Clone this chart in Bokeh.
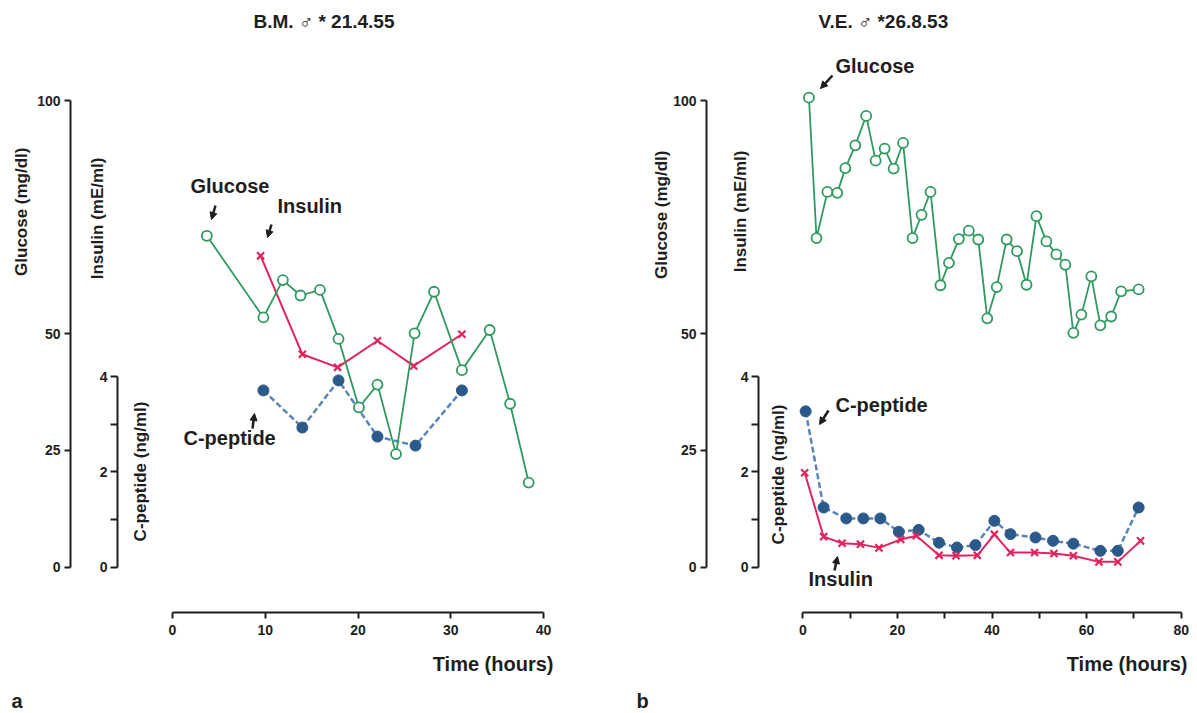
import math
from bokeh.plotting import figure
from bokeh.models import Range1d, LinearAxis, FixedTicker, Label, Arrow, NormalHead, Title
from bokeh.layouts import row
from bokeh.embed import file_html
from bokeh.resources import INLINE

# ---------------- data ----------------
# Panel a: B.M.
a_glucose_t = [3.7, 9.8, 11.9, 13.8, 15.9, 17.9, 20.1, 22.1, 24.1, 26.1, 28.2, 31.2, 34.2, 36.4, 38.4]
a_glucose = [71.0, 53.5, 61.5, 58.2, 59.4, 48.9, 34.2, 39.1, 24.2, 50.1, 59.0, 42.2, 50.8, 35.0, 18.1]
a_insulin_t = [9.5, 14.0, 17.8, 22.1, 26.0, 31.2]
a_insulin = [66.7, 45.6, 42.8, 48.5, 43.1, 49.9]
a_cpeptide_t = [9.8, 14.0, 17.9, 22.1, 26.2, 31.2]
a_cpeptide = [3.71, 2.93, 3.92, 2.74, 2.55, 3.71]

# Panel b: V.E.
b_glucose_t = [1.3, 2.9, 5.2, 7.3, 9.0, 11.1, 13.4, 15.4, 17.3, 19.2, 21.2, 23.2, 25.1, 27.0,
               29.1, 30.9, 33.0, 35.1, 37.1, 39.0, 41.0, 43.1, 45.3, 47.3, 49.4, 51.5, 53.6,
               55.5, 57.2, 58.9, 61.0, 62.9, 65.2, 67.3, 71.0]
b_glucose = [100.6, 70.5, 80.4, 80.2, 85.5, 90.4, 96.7, 87.1, 89.7, 85.4, 90.9, 70.5, 75.5, 80.4,
             60.4, 65.2, 70.3, 72.1, 70.2, 53.3, 60.0, 70.2, 67.7, 60.5, 75.2, 69.8, 67.0,
             64.8, 50.2, 54.1, 62.3, 51.8, 53.7, 59.1, 59.5]
b_insulin_t = [0.4, 4.4, 8.3, 12.2, 16.1, 20.7, 24.0, 28.8, 32.4, 36.9, 40.5, 43.9, 49.0, 53.1,
               57.2, 62.6, 66.6, 71.4]
b_insulin = [20.2, 6.5, 5.1, 4.9, 4.1, 5.9, 6.7, 2.5, 2.4, 2.5, 7.0, 3.1, 3.1, 2.9, 2.4, 1.1, 1.1, 5.6]
b_cpeptide_t = [0.6, 4.4, 9.2, 12.8, 16.4, 20.3, 24.5, 28.8, 32.6, 36.5, 40.5, 43.9, 49.2, 52.9,
                57.2, 62.9, 66.6, 71.0]
b_cpeptide = [3.27, 1.25, 1.02, 1.02, 1.02, 0.74, 0.78, 0.51, 0.41, 0.46, 0.97, 0.69, 0.62, 0.55,
              0.49, 0.34, 0.34, 1.25]

glucose_ticks = [0, 25, 50, 100]
cpeptide_ticks = [0, 2, 4]
cpeptide_minor = [1, 3]
a_time_ticks = [0, 10, 20, 30, 40]
b_time_ticks = [0, 20, 40, 60, 80]
b_time_minor = [10, 30, 50, 70]

# ---------------- styles ----------------
FONT = "Liberation Sans"
TXT = "#1e1e1e"
GREEN = "#2f9a60"
RED = "#e0245e"
BLUE = "#2b5a8a"
BLUE_LINE = "#5b84b6"

H = 712
TOP, BOTTOM = 40, 612        # frame top / bottom (canvas px)
G0, GPX = 566.5, 4.665       # glucose 0 canvas px, px per mg/dl
CPX = 47.6                   # px per ng/ml C-peptide


def make_panel(L):
    xr = Range1d((L["left"] - L["x0"]) / L["xpx"], (L["right"] - L["x0"]) / L["xpx"])
    yr = Range1d((G0 - BOTTOM) / GPX, (G0 - TOP) / GPX)
    cr = Range1d((G0 - BOTTOM) / CPX, (G0 - TOP) / CPX)
    p = figure(width=L["width"], height=H, x_range=xr, y_range=yr,
               x_axis_location=None, y_axis_location=None,
               output_backend="svg", toolbar_location=None,
               min_border_left=L["left"], min_border_right=L["width"] - L["right"],
               min_border_top=TOP, min_border_bottom=H - BOTTOM)
    p.extra_y_ranges = {"cpep": cr}
    p.outline_line_color = None
    p.background_fill_color = "white"
    p.border_fill_color = "white"
    for g in p.grid:
        g.visible = False

    def px_x(cx):
        return (cx - L["x0"]) / L["xpx"]

    def px_y(cy):
        return (G0 - cy) / GPX

    def style_axis(ax, size="14px"):
        ax.axis_line_color = TXT
        ax.axis_line_width = 2
        ax.major_tick_line_color = TXT
        ax.major_tick_line_width = 2
        ax.minor_tick_line_color = TXT
        ax.minor_tick_line_width = 2
        ax.major_tick_in = 0
        ax.major_tick_out = 6
        ax.minor_tick_in = 0
        ax.minor_tick_out = 6
        ax.major_label_text_font = FONT
        ax.major_label_text_font_style = "bold"
        ax.major_label_text_font_size = size
        ax.major_label_text_color = TXT
        ax.major_label_standoff = 4

    def title(text, place, align, offset, standoff, size):
        t = Title(text=text, align=align, offset=offset, standoff=standoff,
                  text_font=FONT, text_font_style="bold", text_font_size=size,
                  text_color=TXT)
        p.add_layout(t, place)

    # title (above)
    title(L["title"], "above", "left", L["title_off"], 17, "19px")

    # left stack: C-peptide axis, insulin title, spacer, glucose axis, glucose title
    cax = LinearAxis(y_range_name="cpep", bounds=(0, 4),
                     ticker=FixedTicker(ticks=cpeptide_ticks, minor_ticks=cpeptide_minor))
    style_axis(cax)
    cax.major_tick_out = 7
    cax.minor_tick_out = 7
    cax.major_label_standoff = 3
    p.add_layout(cax, "left")
    title("Insulin (mE/ml)", "left", "right", L["ins_top"] - TOP, L["ins_standoff"], "17px")
    sp = LinearAxis(ticker=FixedTicker(ticks=[105], minor_ticks=[]), axis_line_color=None,
                    major_tick_line_color="white", minor_tick_line_color=None,
                    major_tick_out=L["spacer"], major_tick_in=0, minor_tick_out=0, minor_tick_in=0,
                    major_label_standoff=0, major_label_overrides={105: ""})
    p.add_layout(sp, "left")
    gax = LinearAxis(bounds=(0, 100), ticker=FixedTicker(ticks=glucose_ticks, minor_ticks=[]))
    style_axis(gax)
    p.add_layout(gax, "left")
    title("Glucose (mg/dl)", "left", "right", L["glu_top"] - TOP, L["glu_standoff"], "17px")

    # below stack: time axis, time title, panel letter
    xax = LinearAxis(bounds=(0, L["tmax"]),
                     ticker=FixedTicker(ticks=L["tticks"], minor_ticks=L["tminor"]))
    style_axis(xax)
    xax.major_label_standoff = 6
    p.add_layout(xax, "below")
    title("Time (hours)", "below", "right", L["right"] - L["time_right"], 27, "20px")
    title(L["letter"], "below", "left", L["letter_left"] - L["left"], -1, "20px")

    # series
    p.line(L["ct"], L["c"], y_range_name="cpep", color=BLUE_LINE, line_width=2.5, line_dash="6 3")
    p.scatter(L["ct"], L["c"], y_range_name="cpep", marker="circle", size=11,
              fill_color=BLUE, line_color=BLUE)
    p.line(L["it"], L["i"], color=RED, line_width=2)
    p.scatter(L["it"], L["i"], marker="x", size=10, line_color=RED, line_width=2.2)
    p.line(L["gt"], L["g"], color=GREEN, line_width=1.8)
    p.scatter(L["gt"], L["g"], marker="circle", size=10, fill_color="white",
              line_color=GREEN, line_width=1.8)

    def d(px, py):
        return px_x(px - L["page_x"]), px_y(py)

    def lab(text, px, py, size, align="left", baseline="middle", angle=0.0):
        x, y = d(px, py)
        p.add_layout(Label(x=x, y=y, text=text, text_font=FONT, text_font_style="bold",
                           text_font_size=size, text_color=TXT, text_align=align,
                           text_baseline=baseline, angle=angle))

    def arr(p0, p1):
        x0, y0 = d(*p0)
        x1, y1 = d(*p1)
        p.add_layout(Arrow(end=NormalHead(size=7, fill_color=TXT, line_color=TXT),
                           x_start=x0, y_start=y0, x_end=x1, y_end=y1,
                           line_color=TXT, line_width=2.5))

    for t in L["labels"]:
        lab(*t)
    for a in L["arrows"]:
        arr(*a)
    return p


# layout numbers are canvas pixels of each figure
A = dict(width=630, page_x=0, left=117, right=608, x0=172.0, xpx=9.275,
         spacer=26, ins_standoff=-21, glu_standoff=8, ins_top=157, glu_top=147,
         tmax=40, tticks=a_time_ticks, tminor=[],
         title="B.M. \u2642  * 21.4.55", title_off=136, time_right=553,
         letter="a", letter_left=11,
         gt=a_glucose_t, g=a_glucose, it=a_insulin_t, i=a_insulin, ct=a_cpeptide_t, c=a_cpeptide,
         labels=[("C-peptide (ng/ml)", 140, 471, "17px", "center", "middle", math.pi / 2),
                 ("Glucose", 190, 185, "20px"),
                 ("Insulin", 277, 205, "20px"),
                 ("C-peptide", 183, 437, "20px")],
         arrows=[((215, 205), (211, 219)), ((271, 224), (267, 237)), ((252, 428), (254, 413))])

B = dict(width=566, page_x=630, left=128, right=553, x0=172.3, xpx=4.73,
         spacer=31, ins_standoff=-25, glu_standoff=-1, ins_top=150, glu_top=150,
         tmax=80, tticks=b_time_ticks, tminor=b_time_minor,
         title="V.E. \u2642 *26.8.53", title_off=60, time_right=557,
         letter="b", letter_left=6,
         gt=b_glucose_t, g=b_glucose, it=b_insulin_t, i=b_insulin, ct=b_cpeptide_t, c=b_cpeptide,
         labels=[("C-peptide (ng/ml)", 778, 474, "17px", "center", "middle", math.pi / 2),
                 ("Glucose", 835, 65, "20px"),
                 ("C-peptide", 835, 404, "20px"),
                 ("Insulin", 808, 578, "20px")],
         arrows=[((832, 75), (820, 88)), ((828, 410), (819, 424)), ((834, 570), (837, 556))])

pa = make_panel(A)
pb = make_panel(B)
layout = row(pa, pb, spacing=0)
open("out.html", "w").write(file_html(layout, INLINE))
